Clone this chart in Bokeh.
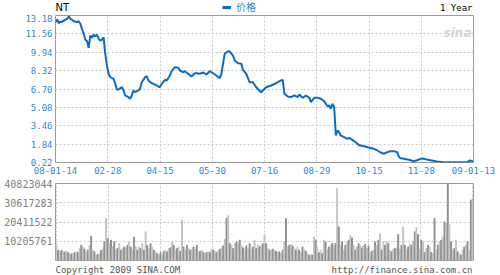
import numpy as np
from bokeh.plotting import figure
from bokeh.layouts import column
from bokeh.models import (FixedTicker, Label, Legend, LegendItem, Range1d,
                          ColumnDataSource, PrintfTickFormatter, CustomJSTickFormatter)
from bokeh.embed import file_html
from bokeh.resources import INLINE

# ---------------- data ----------------
symbol = "NT"
period = "1 Year"
series_name = "价格"
copyright_text = "Copyright 2009 SINA.COM"
source_url = "http://finance.sina.com.cn"

n_days = 253  # trading days 2008-01-14 .. 2009-01-13
x_tick_labels = ["08-01-14", "02-28", "04-15", "05-30", "07-16",
                 "08-29", "10-15", "11-28", "09-01-13"]
price_ticks = [0.22, 1.84, 3.46, 5.08, 6.70, 8.32, 9.94, 11.56, 13.18]
volume_ticks = [10205761, 20411522, 30617283, 40823044]

price_days = [0, 1, 2, 3, 4, 5, 7, 8, 9, 10, 11, 13, 14, 15, 16, 17, 18, 19, 20, 21,
              22, 23, 24, 25, 26, 27, 28, 29, 30, 31, 32, 33, 35, 36, 37, 38, 40, 41, 42, 44,
              45, 46, 47, 48, 50, 51, 52, 54, 55, 56, 58, 59, 61, 62, 63, 64, 66, 67, 69, 70,
              72, 74, 75, 77, 78, 80, 82, 84, 85, 87, 89, 91, 93, 95, 97, 99, 100, 101, 102, 104,
              105, 107, 108, 110, 112, 113, 115, 117, 119, 121, 124, 127, 130, 133, 136, 137, 138, 140, 142, 144,
              146, 147, 149, 151, 153, 154, 156, 158, 160, 162, 164, 165, 166, 167, 168, 169, 170, 171, 172, 174,
              176, 177, 179, 181, 183, 184, 186, 188, 190, 192, 194, 196, 198, 200, 202, 204, 206, 207, 208, 210,
              213, 216, 218, 221, 223, 226, 230, 234, 238, 244, 248, 250, 252]
price = [12.59, 12.83, 12.50, 12.65, 12.60, 12.74, 12.89, 13.10, 12.89, 12.80, 12.68, 12.60, 12.68, 12.45, 11.97, 11.57, 11.04, 10.92, 10.33, 11.42,
         11.21, 11.50, 11.33, 11.50, 11.13, 10.98, 11.04, 11.27, 9.80, 8.77, 8.04, 7.74, 7.60, 7.16, 6.66, 6.66, 6.86, 6.57, 6.13, 5.98,
         5.84, 6.13, 6.57, 6.42, 6.57, 6.72, 7.30, 7.74, 7.83, 7.45, 7.21, 7.16, 7.01, 6.92, 6.86, 7.16, 7.51, 7.45, 7.89, 8.27,
         8.62, 8.57, 8.33, 8.18, 8.27, 8.04, 7.80, 8.09, 8.09, 8.04, 8.15, 7.98, 8.27, 8.09, 7.89, 7.65, 8.04, 8.92, 9.80, 10.03,
         10.00, 9.65, 9.21, 8.97, 8.92, 8.39, 8.04, 7.30, 7.30, 6.86, 6.42, 6.86, 7.01, 7.21, 7.45, 7.51, 6.28, 6.04, 5.98, 6.13,
         5.98, 6.22, 5.92, 6.13, 5.92, 5.54, 5.92, 5.92, 5.84, 5.62, 5.16, 5.25, 4.96, 5.40, 5.10, 2.60, 3.04, 2.89, 2.60, 2.45,
         2.31, 2.40, 2.22, 2.01, 1.75, 1.72, 1.65, 1.57, 1.50, 1.43, 1.28, 1.10, 0.99, 1.13, 1.22, 1.22, 1.13, 0.75, 0.60, 0.55,
         0.46, 0.33, 0.42, 0.58, 0.50, 0.42, 0.31, 0.25, 0.24, 0.24, 0.25, 0.40, 0.30]

# daily volume, millions of shares
volume_m = [8.1, 5.5, 4.6, 5.5, 4.9, 4.6, 4.9, 4.2, 3.7, 3.5, 3.7, 4.2, 4.6, 4.2, 6.4, 8.1, 7.2, 6.0, 4.2, 5.5,
            8.1, 12.9, 5.5, 4.6, 2.8, 3.2, 3.5, 5.5, 6.0, 9.9, 22.3, 11.7, 9.0, 10.8, 7.2, 9.9, 5.5, 6.4, 9.0, 5.5,
            6.4, 7.2, 6.7, 8.1, 9.9, 7.2, 5.5, 12.5, 7.2, 5.5, 7.2, 6.4, 9.0, 5.5, 15.2, 8.1, 6.4, 9.0, 7.2, 5.5,
            4.6, 3.7, 2.8, 4.2, 3.2, 4.9, 5.5, 4.6, 6.4, 6.7, 9.9, 8.1, 5.5, 6.4, 7.2, 4.9, 21.4, 7.2, 5.5, 8.1,
            6.4, 5.5, 6.0,
            7.2, 6.0, 8.1, 4.6, 4.9, 5.5, 4.2, 3.7, 4.2, 4.9, 4.2, 6.0, 5.5, 4.9, 4.2, 5.5, 6.0, 6.7, 7.8, 11.3,
            22.3, 23.7, 9.0, 8.1, 6.4, 9.0, 9.9, 9.4, 10.8, 8.1, 6.7, 6.0, 7.8, 6.4, 9.0, 6.0, 7.2, 10.8, 6.4, 8.1,
            7.2, 8.1, 9.0, 13.8, 9.0, 6.4, 5.5, 5.5, 6.0, 5.5, 4.9, 4.2, 4.6, 3.7, 5.5, 9.9, 22.3, 7.2, 8.1, 8.5,
            7.8, 6.7, 5.5, 7.2, 5.5, 4.2, 7.2, 6.0, 4.9, 3.7, 2.8, 3.2, 2.8, 12.5, 10.8, 7.2, 4.2, 5.5, 3.7, 10.8,
            9.9, 6.0, 7.2, 8.1, 9.0,
            7.8, 9.0, 38.2, 17.8, 8.1, 9.9, 5.5, 8.1, 9.9, 10.8, 13.4, 12.0, 8.1, 5.5, 7.2, 9.0, 7.8, 6.7, 7.8, 8.5,
            6.4, 7.8, 4.2, 4.9, 5.5, 9.9, 8.1, 10.8, 14.3, 5.5, 9.9, 8.1, 9.9, 9.0, 5.5, 4.6, 6.0, 6.4, 6.7, 13.8,
            6.0, 8.1, 17.8, 8.1, 5.5, 7.2, 9.0, 8.1, 9.9, 15.2, 17.3, 13.8, 6.0, 10.8, 9.9, 4.2, 6.4, 8.1, 7.2, 4.2,
            3.7, 22.3, 5.5, 8.1, 9.9, 10.8, 12.5, 20.5, 19.6, 40.823044, 19.1, 9.9, 5.5, 6.4, 10.8, 4.6, 3.7, 2.8, 5.5, 7.2,
            8.1, 9.9, 5.5, 32.0, 32.9]

# ---------------- style ----------------
TICK_BLUE = "#2a8ae0"
LINE_BLUE = "#0a6cc6"
MONO = "DejaVu Sans Mono"
GRID = "#c8c8c8"
FRAME = "#9a9a9a"
W = 500

tick_pos = list(np.linspace(0, n_days - 1, len(x_tick_labels)))
step = (n_days - 1) / (len(x_tick_labels) - 1)


def bare_strip(height):
    f = figure(width=W, height=height, output_backend="svg", toolbar_location=None,
               x_range=Range1d(0, 1), y_range=Range1d(0, 1),
               min_border_left=55, min_border_right=27, min_border_top=0, min_border_bottom=0,
               background_fill_color="white", border_fill_color="white")
    f.axis.visible = False
    f.grid.visible = False
    f.outline_line_color = None
    return f


def style_axis(ax, color, size):
    ax.axis_line_color = None
    ax.major_tick_line_color = None
    ax.minor_tick_line_color = None
    ax.major_tick_out = 0
    ax.major_tick_in = 0
    ax.minor_tick_out = 0
    ax.minor_tick_in = 0
    ax.major_label_text_font = MONO
    ax.major_label_text_font_size = size
    ax.major_label_text_color = color


# ---------------- price panel ----------------
src = ColumnDataSource(dict(day=price_days, price=price))
p = figure(width=W, height=163, output_backend="svg", toolbar_location=None,
           x_range=Range1d(0, n_days - 1), y_range=Range1d(price_ticks[0], price_ticks[-1]),
           min_border_left=55, min_border_right=27, min_border_top=1, min_border_bottom=15,
           background_fill_color="white", border_fill_color="white")
line = p.line("day", "price", source=src, line_color=LINE_BLUE, line_width=2)
p.outline_line_color = FRAME

p.xaxis.ticker = FixedTicker(ticks=tick_pos)
p.xaxis.formatter = CustomJSTickFormatter(args=dict(labels=x_tick_labels, step=step),
                                          code="return labels[Math.round(tick/step)];")
p.yaxis.ticker = FixedTicker(ticks=price_ticks)
p.yaxis.formatter = PrintfTickFormatter(format="%.2f")
style_axis(p.xaxis[0], TICK_BLUE, "9px")
style_axis(p.yaxis[0], TICK_BLUE, "9px")
p.xaxis[0].major_label_standoff = 4
p.yaxis[0].major_label_standoff = 3
for g in (p.xgrid[0], p.ygrid[0]):
    g.grid_line_color = GRID
    g.grid_line_dash = "2 2"

p.add_layout(Label(x=416, y=130, x_units="screen", y_units="screen", text="sina",
                   text_font="DejaVu Sans", text_font_size="12px", text_font_style="bold italic",
                   text_color="#d4d4d4", text_align="right", text_baseline="middle"))

# ---------------- header strip (symbol, legend, period) ----------------
head = bare_strip(14)
legend_line = head.line(x=[float("nan")], y=[float("nan")], line_color=LINE_BLUE, line_width=3)
head.add_layout(Label(x=0, y=7, x_units="screen", y_units="screen", text=symbol,
                      text_font="DejaVu Sans", text_font_size="10px", text_color="black",
                      text_baseline="middle"))
head.add_layout(Label(x=417, y=7, x_units="screen", y_units="screen", text=period,
                      text_font=MONO, text_font_size="9px", text_color="black",
                      text_align="right", text_baseline="middle"))
legend = Legend(items=[LegendItem(label=series_name, renderers=[legend_line])],
                location=(167, 0), orientation="horizontal",
                background_fill_alpha=0, border_line_alpha=0, margin=0, padding=0,
                glyph_width=9, glyph_height=10, label_standoff=5, label_height=10,
                label_text_font="Noto Sans CJK SC", label_text_font_size="10px",
                label_text_line_height=1.0, label_text_color=TICK_BLUE)
head.add_layout(legend)

# ---------------- volume panel ----------------
vdays = list(range(len(volume_m)))
volume = [v * 1e6 for v in volume_m]
vcolors = ["#c4c4c4" if i % 2 == 0 else "#8e8e8e" for i in vdays]
vsrc = ColumnDataSource(dict(day=vdays, volume=volume, color=vcolors))
p2 = figure(width=W, height=84, output_backend="svg", toolbar_location=None,
            x_range=Range1d(-0.6, len(volume_m) - 0.4), y_range=Range1d(0, volume_ticks[-1]),
            min_border_left=55, min_border_right=27, min_border_top=6, min_border_bottom=1,
            background_fill_color="white", border_fill_color="white")
p2.vbar(x="day", top="volume", width=0.55, color="color", source=vsrc)
p2.outline_line_color = FRAME
p2.xaxis.visible = False
p2.xgrid.ticker = FixedTicker(ticks=[t * len(volume_m) / n_days for t in tick_pos])
p2.yaxis.ticker = FixedTicker(ticks=volume_ticks)
p2.yaxis.formatter = PrintfTickFormatter(format="%d")
style_axis(p2.yaxis[0], "#808080", "10px")
p2.yaxis[0].major_label_standoff = 3
for g in (p2.xgrid[0], p2.ygrid[0]):
    g.grid_line_color = GRID
    g.grid_line_dash = "2 2"

# ---------------- footer strip ----------------
foot = bare_strip(14)
foot.add_layout(Label(x=0, y=6, x_units="screen", y_units="screen", text=copyright_text,
                      text_font=MONO, text_font_size="9px", text_color="#555555",
                      text_baseline="middle"))
foot.add_layout(Label(x=417, y=6, x_units="screen", y_units="screen", text=source_url,
                      text_font=MONO, text_font_size="9px", text_color="#555555",
                      text_align="right", text_baseline="middle"))

layout = column(head, p, p2, foot, spacing=0)
open("out.html", "w").write(file_html(layout, INLINE))
